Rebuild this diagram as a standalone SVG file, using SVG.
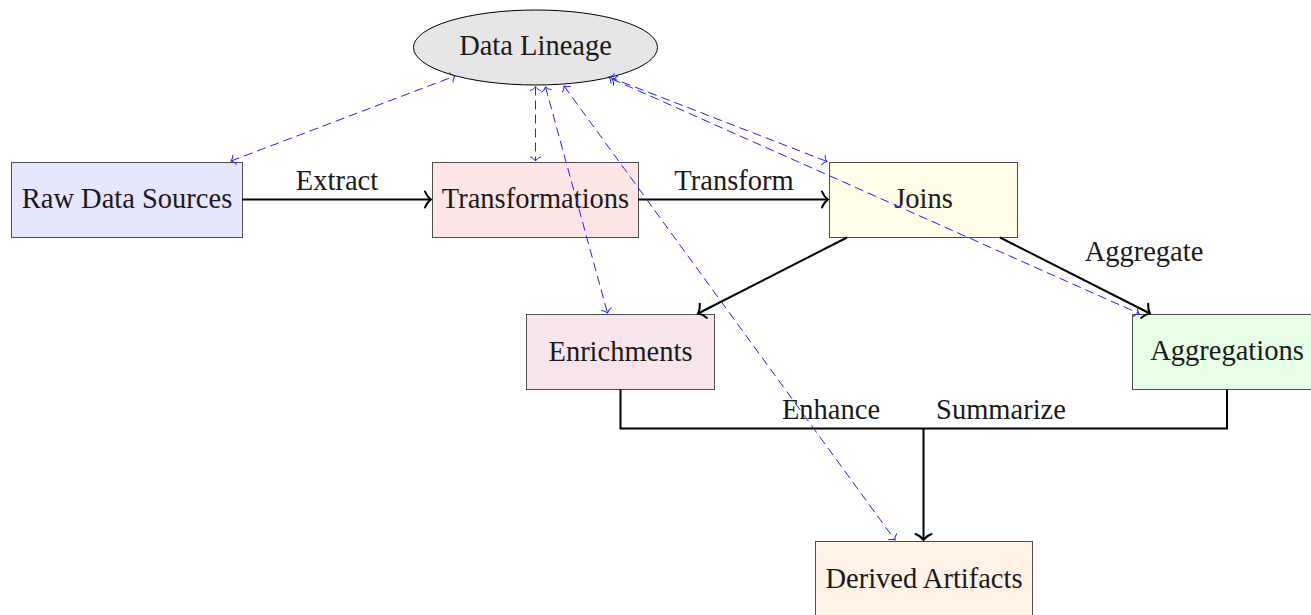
<svg xmlns="http://www.w3.org/2000/svg" width="1311" height="615" viewBox="0 0 1311 615">
<style>
  .box { stroke: #4d4d4d; stroke-width: 1; }
  .lbl { font-family: "Liberation Serif", "DejaVu Serif", serif; font-size: 28.5px; fill: #1a1a1a; text-anchor: middle; }
  .flow { fill: none; stroke: #000; stroke-width: 2; }
  .lin { fill: none; stroke: #2020ff; stroke-width: 1; stroke-dasharray: 9 5; }
</style>
<defs>
  <marker id="ah" markerUnits="userSpaceOnUse" viewBox="-10 -10 12 20" markerWidth="12" markerHeight="20" refX="0" refY="0" orient="auto">
    <path d="M-6,-8 C-4,-3 -1.5,-1 0,0 C-1.5,1 -4,3 -6,8" fill="none" stroke="#000" stroke-width="2" stroke-linecap="round"/>
  </marker>
  <marker id="bh" markerUnits="userSpaceOnUse" viewBox="-8 -8 10 16" markerWidth="10" markerHeight="16" refX="0" refY="0" orient="auto-start-reverse">
    <path d="M-4,-5 C-3,-2 -1,-0.6 0,0 C-1,0.6 -3,2 -4,5" fill="none" stroke="#2020ff" stroke-width="1" stroke-linecap="round"/>
  </marker>
</defs>

<g id="lineage">
  <ellipse cx="535.5" cy="47.5" rx="122" ry="37.5" fill="#e6e6e6" stroke="#000" stroke-width="1"/>
  <text class="lbl" x="535.5" y="55">Data Lineage</text>
</g>
<g id="raw">
  <rect class="box" x="11.5" y="162.5" width="231" height="75" fill="#e6e6ff"/>
  <text class="lbl" x="127" y="208">Raw Data Sources</text>
</g>
<g id="transformations">
  <rect class="box" x="432.5" y="162.5" width="206" height="75" fill="#ffe6e6"/>
  <text class="lbl" x="535.5" y="208">Transformations</text>
</g>
<g id="joins">
  <rect class="box" x="829.5" y="162.5" width="188" height="75" fill="#fffce8"/>
  <text class="lbl" x="923.5" y="208">Joins</text>
</g>
<g id="enrichments">
  <rect class="box" x="526.5" y="314.5" width="188" height="75" fill="#f9e6ec"/>
  <text class="lbl" x="620.5" y="361">Enrichments</text>
</g>
<g id="aggregations">
  <rect class="box" x="1132.5" y="314.5" width="190" height="75" fill="#e6ffe6"/>
  <text class="lbl" x="1227" y="360">Aggregations</text>
</g>
<g id="derived">
  <rect class="box" x="815.5" y="541.5" width="217" height="76" fill="#fff2e6"/>
  <text class="lbl" x="924" y="588">Derived Artifacts</text>
</g>

<g id="connectors">
  <line class="flow" x1="242" y1="199.5" x2="431" y2="199.5" marker-end="url(#ah)"/>
  <line class="flow" x1="638" y1="199.5" x2="828" y2="199.5" marker-end="url(#ah)"/>
  <line class="flow" x1="847" y1="237.5" x2="698" y2="313.5" marker-end="url(#ah)"/>
  <line class="flow" x1="1000" y1="237.5" x2="1150" y2="313.5" marker-end="url(#ah)"/>
  <polyline class="flow" points="620.5,389.5 620.5,428.5 923.5,428.5"/>
  <polyline class="flow" points="1227,389.5 1227,428.5 923.5,428.5"/>
  <line class="flow" x1="923.5" y1="428.5" x2="923.5" y2="540" marker-end="url(#ah)"/>

  <line class="lin" x1="231" y1="161" x2="455" y2="76" marker-start="url(#bh)" marker-end="url(#bh)"/>
  <line class="lin" x1="535.5" y1="86.5" x2="535.5" y2="161" marker-start="url(#bh)" marker-end="url(#bh)"/>
  <line class="lin" x1="545.5" y1="87" x2="607.5" y2="313" marker-start="url(#bh)" marker-end="url(#bh)"/>
  <line class="lin" x1="564" y1="86" x2="895" y2="540" marker-start="url(#bh)" marker-end="url(#bh)"/>
  <line class="lin" x1="609" y1="77" x2="827" y2="161.5" marker-start="url(#bh)" marker-end="url(#bh)"/>
  <line class="lin" x1="612" y1="79" x2="1139" y2="313.5" marker-start="url(#bh)" marker-end="url(#bh)"/>

  <text class="lbl" x="337" y="190">Extract</text>
  <text class="lbl" x="734" y="190">Transform</text>
  <text class="lbl" x="1144" y="261">Aggregate</text>
  <text class="lbl" x="831" y="419">Enhance</text>
  <text class="lbl" x="1001" y="419">Summarize</text>
</g>
</svg>
